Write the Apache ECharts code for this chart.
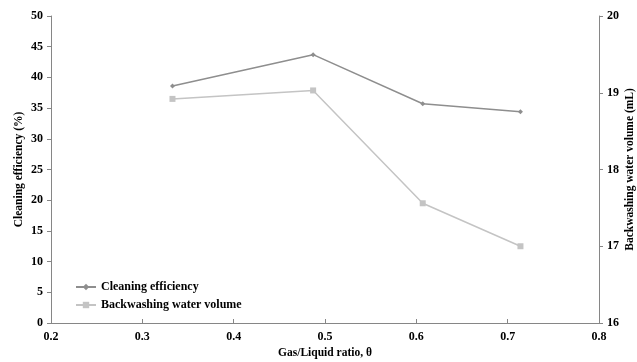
<!DOCTYPE html>
<html><head><meta charset="utf-8">
<script src="https://cdn.jsdelivr.net/npm/echarts@6/dist/echarts.min.js"></script>
<style>html,body{margin:0;padding:0;background:#fff}#c{width:637px;height:362px}</style>
</head><body><div id="c"></div>
<script>
const ratios = [0.333, 0.487, 0.607, 0.714];
const cleaningEfficiency = [38.6, 43.7, 35.7, 34.4];
const backwashVolume = [18.92, 19.03, 17.56, 17.0];
const xTicks = [0.2, 0.3, 0.4, 0.5, 0.6, 0.7, 0.8];

const font = 'Liberation Serif, Times New Roman, serif';
const lbl = {fontFamily: font, fontWeight: 'bold', fontSize: 12, color: '#000'};
const nm = {fontFamily: font, fontWeight: 'bold', fontSize: 11.5, color: '#000'};
const chart = echarts.init(document.getElementById('c'));
chart.setOption({
  animation: false,
  grid: {left: 51, right: 38, top: 16, bottom: 39, containLabel: false, outerBoundsMode: 'none'},
  legend: {
    orient: 'vertical', left: 70, top: 276, itemGap: 6, itemWidth: 20, itemHeight: 8,
    textStyle: {fontFamily: font, fontWeight: 'bold', fontSize: 12, color: '#000'},
    data: ['Cleaning efficiency', 'Backwashing water volume']
  },
  xAxis: {
    type: 'value', min: 0.2, max: 0.8, interval: 0.1,
    name: 'Gas/Liquid ratio, θ', nameLocation: 'middle', nameGap: 24, nameMoveOverlap: false,
    nameTextStyle: nm,
    axisLine: {lineStyle: {color: '#868686'}},
    axisTick: {inside: true, length: 4, lineStyle: {color: '#868686'}},
    splitLine: {show: false},
    axisLabel: Object.assign({margin: 8, formatter: v => v.toFixed(1)}, lbl)
  },
  yAxis: [{
    type: 'value', min: 0, max: 50, interval: 5,
    name: 'Cleaning efficiency (%)', nameLocation: 'middle', nameGap: 26, nameRotate: 90, nameMoveOverlap: false,
    nameTextStyle: nm,
    axisLine: {show: true, lineStyle: {color: '#868686'}},
    axisTick: {show: true, length: 4, lineStyle: {color: '#868686'}},
    splitLine: {show: false},
    axisLabel: Object.assign({margin: 8}, lbl)
  }, {
    type: 'value', min: 16, max: 20, interval: 1, position: 'right',
    name: 'Backwashing water volume (mL)', nameLocation: 'middle', nameGap: 25, nameRotate: 90, nameMoveOverlap: false,
    nameTextStyle: nm,
    axisLine: {show: true, lineStyle: {color: '#868686'}},
    axisTick: {show: true, length: 4, lineStyle: {color: '#868686'}},
    splitLine: {show: false},
    axisLabel: Object.assign({margin: 8}, lbl)
  }],
  series: [{
    name: 'Cleaning efficiency', type: 'line', yAxisIndex: 0,
    data: ratios.map((x, i) => [x, cleaningEfficiency[i]]),
    symbol: 'diamond', symbolSize: 5,
    lineStyle: {color: '#8e8e8e', width: 1.5},
    itemStyle: {color: '#8e8e8e'}
  }, {
    name: 'Backwashing water volume', type: 'line', yAxisIndex: 1,
    data: ratios.map((x, i) => [x, backwashVolume[i]]),
    symbol: 'rect', symbolSize: 6,
    lineStyle: {color: '#c4c4c4', width: 1.5},
    itemStyle: {color: '#c4c4c4'}
  }]
});
</script></body></html>
